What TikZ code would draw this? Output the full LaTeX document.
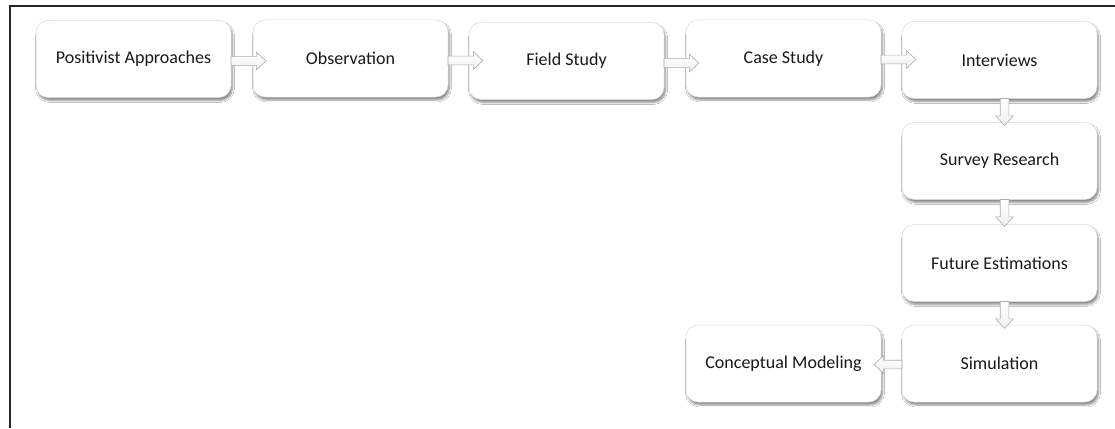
\documentclass[tikz,border=0pt]{standalone}
\usepackage{fontspec}
\setmainfont{Carlito}
\usetikzlibrary{shapes.arrows,shadows.blur}
\tikzset{
  stepbox/.style={draw=gray!30, line width=0.5pt, fill=white, rounded corners=12pt,
    minimum width=195pt, minimum height=77pt, inner sep=0pt, outer sep=0pt,
    font=\fontsize{18}{21}\selectfont, text=black!90,
    blur shadow={shadow xshift=1.5pt, shadow yshift=-3pt, shadow blur steps=6, shadow opacity=45}},
  fatarrow/.style={single arrow, draw=gray!65, line width=0.6pt, top color=white, bottom color=gray!12,
    inner sep=4pt, single arrow head extend=4.5pt, outer sep=0pt,
    single arrow tip angle=85, anchor=tail},
  harrow/.style={fatarrow, minimum height=35pt},
  larrow/.style={fatarrow, minimum height=28pt, shape border rotate=180},
  varrow/.style={fatarrow, minimum height=27pt, shape border rotate=270},
}
\begin{document}
\begin{tikzpicture}[x=1pt,y=-1pt]
\useasboundingbox (0,0) rectangle (1115,428);
\fill[white] (0,0) rectangle (1115,428);
\coordinate (fbl) at (10,428);
\coordinate (ftl) at (10,6);
\coordinate (ftr) at (1115,6);
\draw[line width=1.6pt, black!85] (fbl) -- (ftl) -- (ftr);

\node[stepbox] (b1) at (133.5,59) {Positivist Approaches};
\node[stepbox] (b2) at (350.5,58.5) {Observation};
\node[stepbox] (b3) at (566.5,61) {Field Study};
\node[stepbox] (b4) at (783.5,58.5) {Case Study};
\node[stepbox] (b5) at (999.5,60) {Interviews};
\node[stepbox] (b6) at (999.5,161) {Survey Research};
\node[stepbox] (b7) at (999.5,263) {Future Estimations};
\node[stepbox] (b8) at (999.5,363.5) {Simulation};
\node[stepbox] (b9) at (783.5,363.5) {Conceptual Modeling};

\node[harrow] (a1) at ([yshift=-2pt]b1.east) {};
\node[harrow] (a2) at ([yshift=-2pt]b2.east) {};
\node[harrow] (a3) at ([yshift=-2pt]b3.east) {};
\node[harrow] (a4) at ([yshift=-1pt]b4.east) {};
\node[varrow] (a5) at ([xshift=5pt]b5.south) {};
\node[varrow] (a6) at ([xshift=5pt]b6.south) {};
\node[varrow] (a7) at ([xshift=5pt]b7.south) {};
\node[larrow] (a8) at ([yshift=-1pt]b8.west) {};
\end{tikzpicture}
\end{document}
